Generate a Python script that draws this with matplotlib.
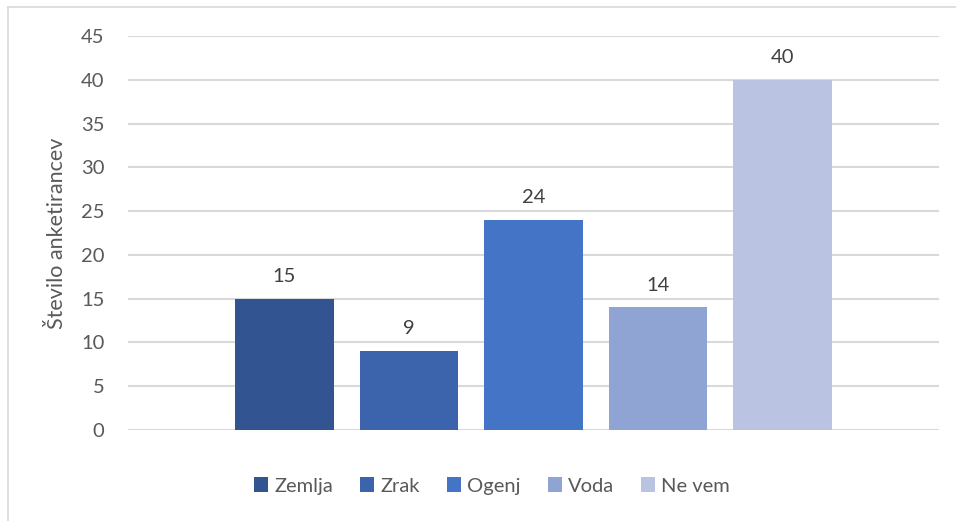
import matplotlib

matplotlib.use("Agg")
import matplotlib.pyplot as plt
from matplotlib.lines import Line2D

series = ["Zemlja", "Zrak", "Ogenj", "Voda", "Ne vem"]
values = [15, 9, 24, 14, 40]
colors = ["#325592", "#3C64AC", "#4474C6", "#90A4D4", "#BAC4E2"]
y_ticks = [0, 5, 10, 15, 20, 25, 30, 35, 40, 45]
y_label = "Število anketirancev"

TEXT = "#595959"
GRID = "#D9D9D9"

plt.rcParams["font.family"] = ["Lato", "DejaVu Sans"]

fig = plt.figure(figsize=(9.56, 5.21), dpi=100)
ax = fig.add_axes([128 / 956, 1 - 430 / 521, (939 - 128) / 956, (430 - 36) / 521])

positions = list(range(len(series)))
bars = ax.bar(positions, values, width=0.795, color=colors, label=series, zorder=3)
for bar, v in zip(bars, values):
    ax.annotate(str(v), (bar.get_x() + bar.get_width() / 2, v), xytext=(0, 10),
                textcoords="offset points", ha="center", va="bottom",
                fontsize=14.5, color="#404040")

ax.set_xlim(-1.257, len(series) - 1 + 1.257)
ax.set_ylim(0, 45)
ax.set_yticks(y_ticks)
ax.set_xticks([])
ax.tick_params(axis="y", length=0, pad=17, labelsize=14.5, labelcolor=TEXT)
ax.grid(axis="y", color=GRID, linewidth=1.5, zorder=0)
for s in ax.spines.values():
    s.set_visible(False)
ax.set_ylabel(y_label, fontsize=15.5, color=TEXT, labelpad=10)

fig.legend(handles=bars, labels=series, loc="center", bbox_to_anchor=(492 / 956, 1 - 486 / 521),
           ncol=5, frameon=False, fontsize=14.5, handlelength=0.7, handleheight=0.7,
           handletextpad=0.3, columnspacing=1.35, labelcolor=TEXT)

# chart border (only top and left visible in the frame)
fig.add_artist(Line2D([8 / 956, 8 / 956], [0, 1 - 7 / 521], transform=fig.transFigure,
                      color=GRID, linewidth=1.2))
fig.add_artist(Line2D([8 / 956, 1], [1 - 7 / 521, 1 - 7 / 521], transform=fig.transFigure,
                      color=GRID, linewidth=1.2))

fig.savefig("out.png", dpi=100)
